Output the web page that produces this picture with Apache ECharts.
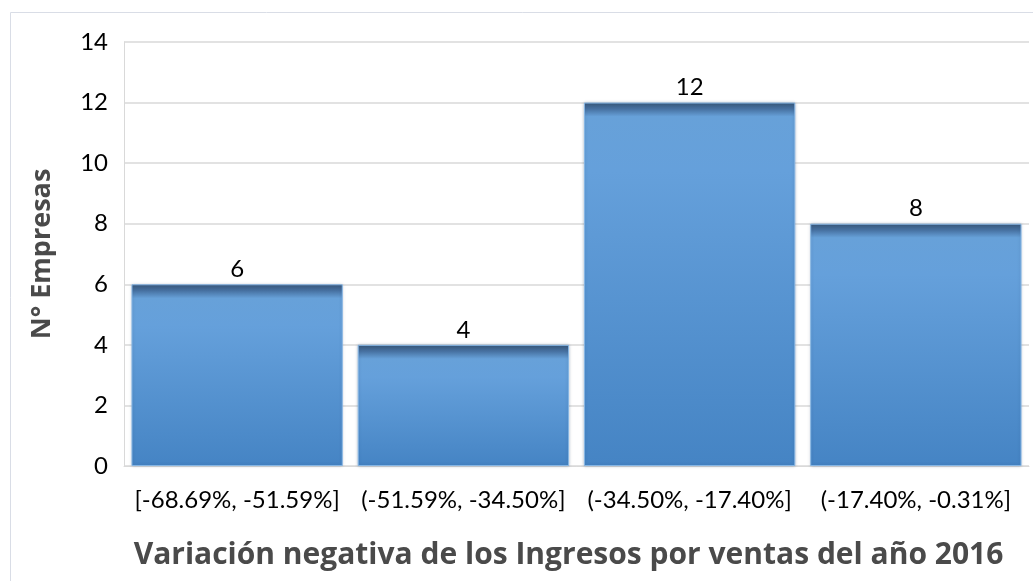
<!DOCTYPE html>
<html>
<head>
<meta charset="utf-8">
<script src="https://cdn.jsdelivr.net/npm/echarts@6/dist/echarts.min.js"></script>
<style>html,body{margin:0;padding:0;background:#fff;}#c{width:1033px;height:581px;}</style>
</head>
<body>
<div id="c"></div>
<script>
var categories = ['[-68.69%, -51.59%]', '(-51.59%, -34.50%]', '(-34.50%, -17.40%]', '(-17.40%, -0.31%]'];
var values = [6, 4, 12, 8];
var yTicks = { min: 0, max: 14, interval: 2 };
var xAxisTitle = 'Variación negativa de los Ingresos por ventas del año 2016';
var yAxisTitle = 'N° Empresas';

var chart = echarts.init(document.getElementById('c'), null, { renderer: 'canvas' });
var plotH = 424;
function barStyle(v) {
  var h = v / yTicks.max * plotH;
  var f = Math.min(0.5, 14 / h);
  return {
    color: {
      type: 'linear', x: 0, y: 0, x2: 0, y2: 1,
      colorStops: [
        { offset: 0, color: '#385779' },
        { offset: f * 0.45, color: '#4670a0' },
        { offset: f, color: '#67a1d9' },
        { offset: Math.min(0.99, f + 0.15), color: '#65a0db' },
        { offset: 1, color: '#4584c4' }
      ]
    },
    borderColor: '#86b6e4',
    borderWidth: 1,
    shadowColor: 'rgba(30,60,100,0.25)',
    shadowBlur: 3
  };
}
var data = values.map(function (v) { return { value: v, itemStyle: barStyle(v) }; });

chart.setOption({
  animation: false,
  textStyle: { fontFamily: 'Lato, "Open Sans", sans-serif' },
  graphic: [{
    type: 'rect', left: 8, top: 10, silent: true,
    shape: { x: 0, y: 0, width: 1100, height: 700 },
    style: { fill: 'none', stroke: '#d9dde6', lineWidth: 1 }
  }],
  grid: { left: 124, right: 4, top: 42, bottom: 115, containLabel: false, outerBoundsMode: 'none' },
  xAxis: {
    type: 'category',
    data: categories,
    axisTick: { show: false },
    axisLine: { show: true, lineStyle: { color: '#d9d9d9', width: 1 } },
    axisLabel: { color: '#000', fontSize: 24, margin: 22, interval: 0, hideOverlap: false, fontFamily: 'Lato, sans-serif' },
    name: xAxisTitle,
    nameLocation: 'middle',
    nameGap: 74,
    nameTextStyle: { color: '#4a4a4a', fontSize: 30, fontWeight: 'bold', fontFamily: '"Open Sans", Lato, sans-serif', padding: [0, 16, 0, 0] }
  },
  yAxis: {
    type: 'value',
    min: yTicks.min, max: yTicks.max, interval: yTicks.interval,
    axisLine: { show: true, lineStyle: { color: '#d9d9d9' } },
    axisTick: { show: false },
    splitLine: { show: true, lineStyle: { color: '#d9d9d9', width: 1.5 } },
    axisLabel: { color: '#000', fontSize: 24, margin: 16, fontFamily: 'Lato, sans-serif' },
    name: yAxisTitle,
    nameLocation: 'middle',
    nameGap: 68,
    nameRotate: 90,
    nameTextStyle: { color: '#4a4a4a', fontSize: 27, fontWeight: 'bold', fontFamily: '"Open Sans", Lato, sans-serif' }
  },
  series: [{
    type: 'bar',
    data: data,
    barCategoryGap: '6.6%',
    label: { show: true, position: 'top', distance: 3, color: '#000', fontSize: 24, fontFamily: 'Lato, sans-serif' }
  }]
});
</script>
</body>
</html>
